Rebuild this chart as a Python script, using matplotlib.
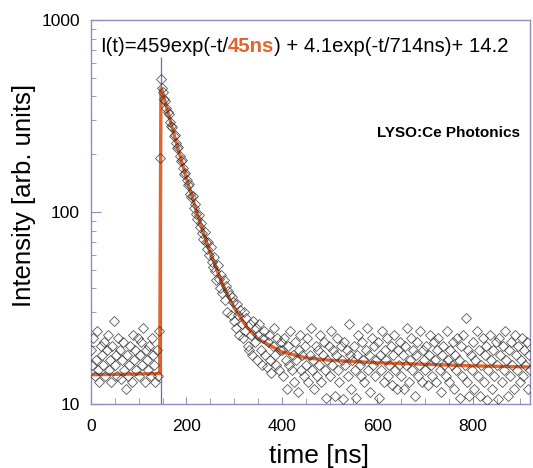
import matplotlib.pyplot as plt
from matplotlib.ticker import LogLocator, MultipleLocator, NullFormatter
import numpy as np

plt.rcParams['font.family'] = ['Liberation Sans', 'DejaVu Sans']

# sampling step of the waveform [ns]
STEP_NS = 2.5

# counts before the pulse, first sample at 0 ns
baseline_start = 0.0
baseline_counts = [19, 16, 22, 14, 17, 24, 15, 13, 20, 18,
                   16, 21, 14, 19, 23, 15, 17, 13, 20, 27,
                   16, 18, 14, 22, 19, 13.5, 17, 21, 15, 12,
                   18, 14, 16, 20, 13, 23, 17, 19, 15, 22,
                   14, 18, 21, 16, 25, 13, 19, 17, 15, 20,
                   14, 22, 18, 16, 13, 19, 14, 24]

# rising edge
rise_time = [144.5, 146.0]
rise_counts = [190, 495]

# decay, first sample at 148 ns
decay_start = 148.0
decay_counts = [445, 420, 388, 380, 350, 330, 325, 296, 280, 276,
                250, 252, 228, 216, 218, 196, 185, 186, 170, 158,
                160, 146, 138, 140, 124, 120, 121, 105, 110, 98,
                92, 97, 84, 88, 78, 72, 79, 70, 64, 70,
                60, 66, 55, 52, 58, 49, 44, 53, 45, 40,
                47, 38, 44, 35, 41, 30, 39, 37, 29, 36,
                34, 27, 25, 33, 29, 23, 31, 26, 22, 30,
                24, 28, 20, 19, 26, 23, 18, 27, 21, 25,
                17, 23, 26, 19, 16, 22, 24, 18, 15.5, 21,
                23, 17, 14.5, 20, 25, 18, 16, 22, 15, 19, 21]

# slow tail, first sample at 400.5 ns
tail_start = 400.5
tail_counts = [19, 14, 22, 17, 12, 20, 16, 24, 15, 18, 13, 21, 17, 11.5, 19, 23, 15, 18, 14, 20,
               16, 22, 13, 18, 25, 15, 17, 12, 20, 14, 19, 16, 23, 13, 18, 21, 15, 10.8, 17, 20,
               14, 24, 16, 19, 11, 18, 22, 15, 13, 20, 17, 10.6, 21, 16, 19, 14, 26, 18, 12, 17,
               20, 15, 10.7, 18, 23, 16, 14, 21, 17, 13, 19, 25, 15, 18, 11.5, 22, 16, 20, 14, 17,
               21, 10.8, 18, 15, 24, 13, 19, 17, 22, 14, 16, 20, 12.5, 18, 23, 15, 12, 19, 16, 21,
               14, 18, 12, 20, 16, 25, 13, 17, 22, 15, 19, 11, 18, 21, 14, 16, 24, 13, 19, 17,
               15, 20, 12.5, 18, 23, 16, 14, 21, 17, 13, 19, 22, 15, 11.5, 18, 20, 16, 14, 24, 17,
               13, 19, 16, 21, 12, 18, 15, 22, 17, 10.8, 20, 14, 23, 16, 28, 13, 19, 11, 18, 15,
               21, 12, 17, 24, 14, 19, 11, 16, 22, 13, 18, 20, 10.5, 15, 23, 17, 12, 19, 14, 21,
               16, 10.6, 22, 18, 13, 20, 15, 24, 17, 11, 19, 14, 21, 16, 12, 23, 18, 15, 20, 13,
               17, 22, 14, 19, 16, 21, 12, 18, 15]

# fit curve
fit_time = [0, 144, 146.5, 148, 160, 180, 200, 225, 250, 275, 300, 325, 350,
            400, 450, 500, 600, 700, 800, 920]
fit_counts = [14.2, 14.4, 440, 438, 340, 224, 150, 94, 61, 42.4, 31.7, 25.4, 21.8,
              18.7, 17.4, 16.9, 16.4, 16.1, 15.8, 15.6]

# time zero marker
marker_time = 146
marker_top = 640


def sample_times(start, counts):
    return start + STEP_NS * np.arange(len(counts))


time_all = np.concatenate([sample_times(baseline_start, baseline_counts), rise_time,
                           sample_times(decay_start, decay_counts),
                           sample_times(tail_start, tail_counts)])
counts_all = np.concatenate([baseline_counts, rise_counts, decay_counts, tail_counts])

frame_color = '#8c8cc8'
fit_color = '#e4642c'

fig = plt.figure(figsize=(5.33, 4.68), dpi=100)
ax = fig.add_axes([91 / 533, 1 - 404 / 468, 439 / 533, 384 / 468])

ax.vlines(marker_time, 10, marker_top, color='#6c6cb4', lw=0.9, zorder=1)
ax.plot(fit_time, fit_counts, color=fit_color, lw=2.4, zorder=2)
ax.plot(time_all, counts_all, ls='none', marker='D', ms=5.3, mfc='none',
        mec='#3a3a3a', mew=0.6, alpha=0.85, zorder=3)

ax.set_yscale('log')
ax.set_xlim(0, 920)
ax.set_ylim(10, 1000)

ax.set_yticks([10, 100, 1000])
ax.set_yticklabels(['10', '100', '1000'])
ax.yaxis.set_minor_locator(LogLocator(base=10, subs=np.arange(2, 10)))
ax.yaxis.set_minor_formatter(NullFormatter())
ax.set_xticks([0, 200, 400, 600, 800])
ax.xaxis.set_minor_locator(MultipleLocator(50))

for side in ax.spines.values():
    side.set_color(frame_color)
    side.set_linewidth(1.0)

ax.tick_params(which='both', direction='in', color=frame_color, labelsize=12.5,
               top=False, right=False)
ax.tick_params(axis='y', which='major', length=7, pad=8)
ax.tick_params(axis='y', which='minor', length=3.5)
ax.tick_params(axis='x', which='major', length=5, pad=11)
ax.tick_params(axis='x', which='minor', length=4)

ax.set_xlabel('time [ns]', fontsize=19)
ax.xaxis.set_label_coords(0.519, -0.154)
ax.xaxis.label.set_va('baseline')
ax.set_ylabel('Intensity [arb. units]', fontsize=18.5)
ax.yaxis.set_label_coords(-0.152, 0.542)
ax.yaxis.label.set_va('center')

# fit formula, decay time highlighted
t1 = ax.text(0.02, 0.917, 'I(t)=459exp(-t/', transform=ax.transAxes,
             fontsize=14.6, va='baseline')
t2 = ax.annotate('45ns', xycoords=t1, xy=(1, 0), va='bottom', fontsize=14.6,
                 fontweight='bold', color=fit_color)
ax.annotate(') + 4.1exp(-t/714ns)+ 14.2', xycoords=t2, xy=(1, 0), va='bottom',
            fontsize=14.6)

ax.text(0.977, 0.706, 'LYSO:Ce Photonics', transform=ax.transAxes, ha='right',
        va='center', fontsize=11, fontweight='bold')

fig.savefig('out.png', dpi=100)
